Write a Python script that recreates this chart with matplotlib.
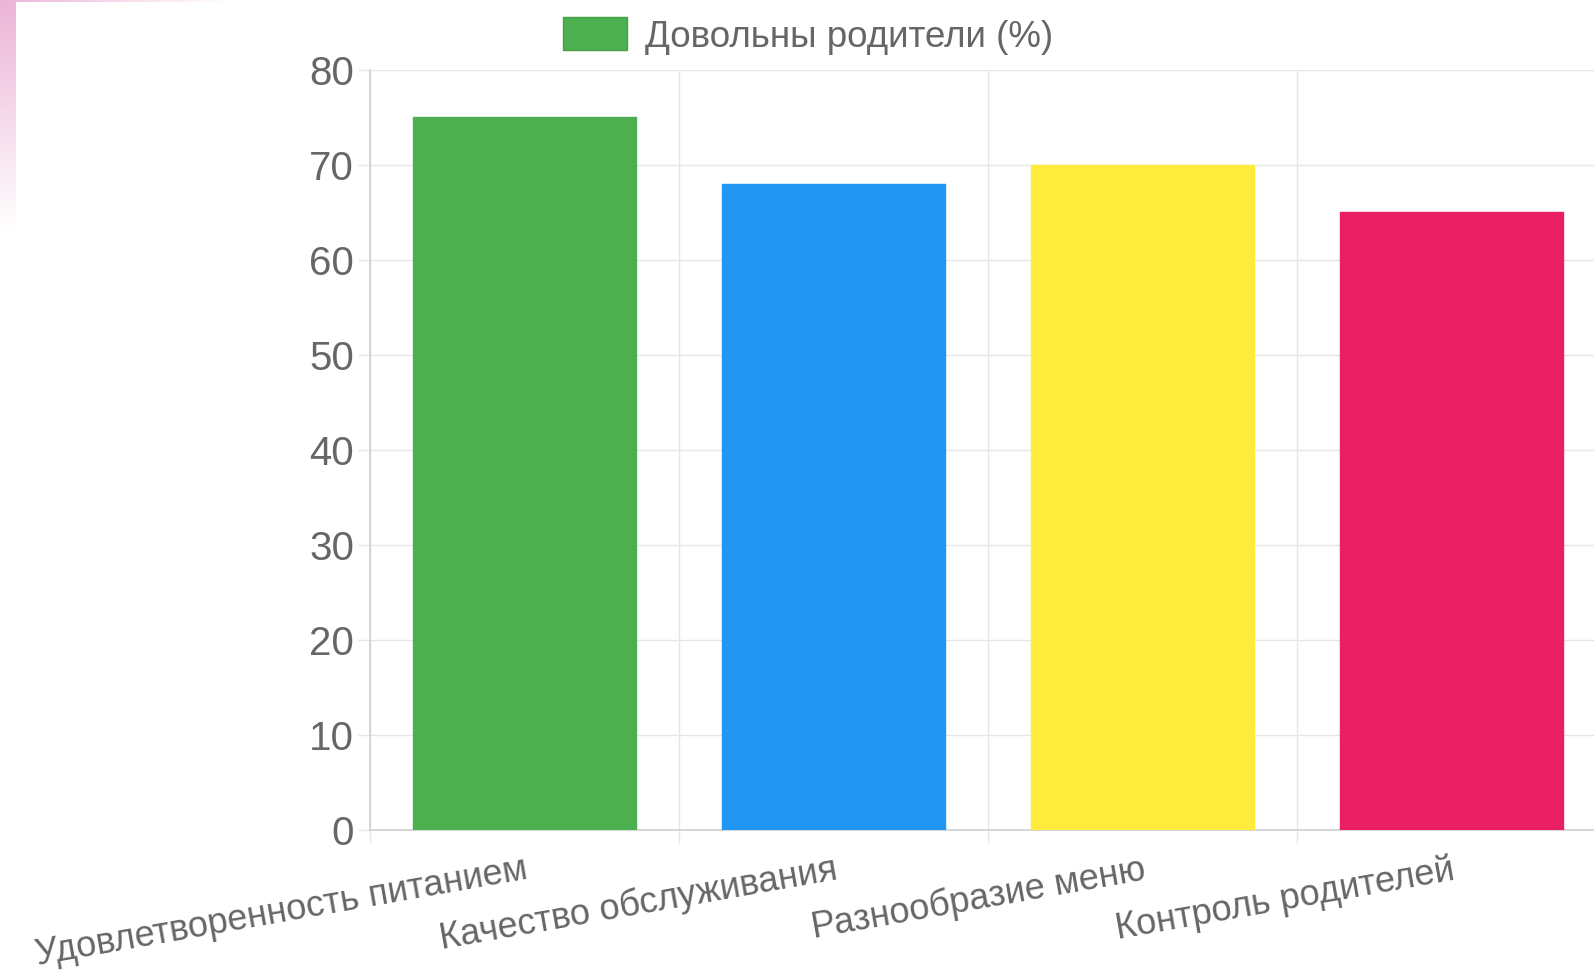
import numpy as np
import matplotlib
matplotlib.use("Agg")
import matplotlib.pyplot as plt
from matplotlib.patches import Patch

categories = ["Удовлетворенность питанием", "Качество обслуживания",
              "Разнообразие меню", "Контроль родителей"]
values = [75, 68, 70, 65]
colors = ["#4CAF50", "#2196F3", "#FFEB3B", "#E91E63"]
series_label = "Довольны родители (%)"
yticks = [0, 10, 20, 30, 40, 50, 60, 70, 80]

plt.rcParams['font.family'] = ['Liberation Sans', 'DejaVu Sans']
TXT = "#666666"
GRID = "#e6e6e6"

W, H = 1594, 971
fig = plt.figure(figsize=(W / 100, H / 100), dpi=100)
fig.patch.set_facecolor("white")

# pink corner gradient background
bg = fig.add_axes([0, 0, 1, 1], zorder=-10)
yy, xx = np.mgrid[0:H, 0:W]
img = np.ones((H, W, 3))
pink = np.array([236, 180, 214]) / 255.0
mask = (xx < 16) | (yy < 2)
w = np.clip(1 - np.hypot(xx, yy * 1.0) / 230.0, 0, 1)
w = np.where(mask, w, 0)[..., None]
img = img * (1 - w) + pink * w
bg.imshow(img, aspect='auto', extent=[0, W, H, 0])
bg.axis('off')

x0, x1 = 370, 1606
y0, y1 = 830, 70
ax = fig.add_axes([x0 / W, (H - y0) / H, (x1 - x0) / W, (y0 - y1) / H])
ax.set_facecolor("none")

x = np.arange(len(categories))
ax.bar(x, values, width=0.72, color=colors, edgecolor=colors, linewidth=1, zorder=3)
ax.set_xlim(-0.5, len(categories) - 0.5)
ax.set_ylim(0, 80)
ax.set_yticks(yticks)
ax.set_yticklabels([str(v) for v in yticks], fontsize=29, color=TXT)

ax.set_xticks(np.arange(len(categories) + 1) - 0.5, minor=False)
ax.set_xticklabels([""] * (len(categories) + 1))
ax.set_xticks(x, minor=True)
ax.set_xticklabels(categories, minor=True, rotation=10, ha='right',
                   rotation_mode='anchor', fontsize=26, color=TXT)
ax.tick_params(axis='x', which='minor', length=0, pad=16)
ax.tick_params(axis='x', which='major', length=9, color=GRID, width=1)
ax.tick_params(axis='y', length=9, color=GRID, width=1, pad=2.5)

ax.grid(True, which='major', color=GRID, linewidth=1, zorder=0)
for s in ['top', 'right']:
    ax.spines[s].set_visible(False)
for s in ['left', 'bottom']:
    ax.spines[s].set_color("#d0d0d0")
    ax.spines[s].set_linewidth(1.2)

handle = Patch(facecolor=colors[0], edgecolor="#43a047")
fig.legend(handles=[handle], labels=[series_label], loc='center',
           bbox_to_anchor=(808 / W, 1 - 36 / H), frameon=False, fontsize=26.5,
           labelcolor=TXT, handlelength=1.75, handleheight=1.0, handletextpad=0.5,
           borderpad=0.2)

fig.savefig("out.png", dpi=100)
